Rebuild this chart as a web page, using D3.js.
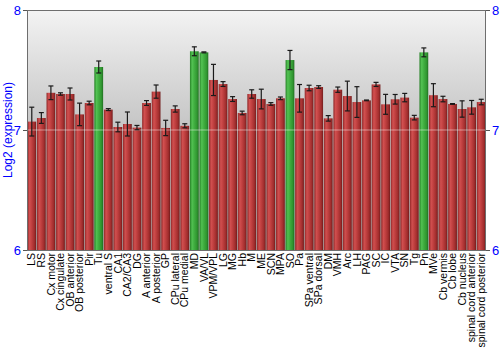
<!DOCTYPE html>
<html>
<head>
<meta charset="utf-8">
<script src="https://cdn.jsdelivr.net/npm/d3@7"></script>
<style>
  html, body { margin: 0; padding: 0; background: #ffffff; }
  svg { display: block; font-family: "Liberation Sans", Arial, sans-serif; }
</style>
</head>
<body>
<svg id="chart" width="500" height="350"></svg>
<script>
// Brain regions
const regions = ["LS", "RS", "Cx motor", "Cx cingulate", "OB anterior", "OB posterior", "Pir", "Tu",
  "ventral S", "CA1", "CA2/CA3", "DG", "A anterior", "A posterior", "GP", "CPu lateral", "CPu medial",
  "MD", "VA/VL", "VPM/VPL", "LG", "MG", "Hb", "M", "ME", "SCN", "MPA", "SO", "Pa", "SPa ventral",
  "SPa dorsal", "DM", "VMH", "Arc", "LH", "PAG", "SC", "IC", "VTA", "SN", "Tg", "Pn", "MVe",
  "Cb vermis", "Cb lobe", "Cb nucleus", "spinal cord anterior", "spinal cord posterior"];

// Mean log2 expression per region
const expression = [7.07, 7.10, 7.31, 7.30, 7.30, 7.13, 7.225, 7.525,
  7.17, 7.025, 7.05, 7.02, 7.225, 7.32, 7.017, 7.175, 7.035,
  7.656, 7.647, 7.417, 7.383, 7.258, 7.142, 7.30, 7.258, 7.217, 7.264, 7.583, 7.264, 7.35,
  7.358, 7.097, 7.336, 7.283, 7.233, 7.247, 7.38, 7.214, 7.256, 7.27, 7.103, 7.647, 7.29,
  7.258, 7.217, 7.175, 7.189, 7.233];

// Standard error per region
const stdError = [0.12, 0.045, 0.057, 0.01, 0.05, 0.094, 0.015, 0.05,
  0.008, 0.04, 0.1, 0.018, 0.02, 0.055, 0.064, 0.026, 0.017,
  0.037, 0.004, 0.13, 0.02, 0.02, 0.015, 0.035, 0.082, 0.011, 0.011, 0.08, 0.115, 0.023,
  0.011, 0.023, 0.022, 0.124, 0.128, 0.003, 0.017, 0.083, 0.04, 0.035, 0.019, 0.037, 0.096,
  0.023, 0.003, 0.068, 0.057, 0.023];

// Highlighted regions (drawn in green)
const highlighted = ["Tu", "MD", "VA/VL", "SO", "Pn"];

const yTicks = [6, 7, 8];
const yTitle = "Log2 (expression)";

const svg = d3.select("#chart");
const margin = { left: 27, right: 14, top: 10, bottom: 100 };
const W = 500, H = 350;
const iw = W - margin.left - margin.right;
const ih = H - margin.top - margin.bottom;

const x = d3.scaleBand().domain(regions).range([margin.left, margin.left + iw]).paddingInner(0.08).paddingOuter(0.04);
const y = d3.scaleLinear().domain([6, 8]).range([margin.top + ih, margin.top]);

const defs = svg.append("defs");
const bg = defs.append("linearGradient").attr("id", "bgGrad").attr("x1", 0).attr("x2", 0).attr("y1", 0).attr("y2", 1);
bg.append("stop").attr("offset", "0%").attr("stop-color", "#f3f3f3");
bg.append("stop").attr("offset", "50%").attr("stop-color", "#c4c4c4");
bg.append("stop").attr("offset", "100%").attr("stop-color", "#a8a8a8");

function barGradient(id, stops) {
  const g = defs.append("linearGradient").attr("id", id).attr("x1", 0).attr("x2", 1).attr("y1", 0).attr("y2", 0);
  stops.forEach(([o, c]) => g.append("stop").attr("offset", o).attr("stop-color", c));
}
barGradient("redGrad", [["0%", "#8e2020"], ["25%", "#d24a4a"], ["45%", "#c43c3c"], ["80%", "#a02626"], ["100%", "#6e1414"]]);
barGradient("greenGrad", [["0%", "#1e7e1e"], ["25%", "#4cc24c"], ["45%", "#3cb03c"], ["80%", "#289428"], ["100%", "#186a18"]]);

// Plot background
svg.append("rect")
  .attr("x", margin.left).attr("y", margin.top)
  .attr("width", iw).attr("height", ih)
  .attr("fill", "url(#bgGrad)");

// Bars
svg.append("g").selectAll("rect").data(regions).join("rect")
  .attr("x", d => x(d))
  .attr("width", x.bandwidth())
  .attr("y", (d, i) => y(expression[i]))
  .attr("height", (d, i) => y(6) - y(expression[i]))
  .attr("fill", d => highlighted.includes(d) ? "url(#greenGrad)" : "url(#redGrad)")
  .attr("fill-opacity", 0.95);

// Grid line at 7
svg.append("line")
  .attr("x1", margin.left).attr("x2", margin.left + iw)
  .attr("y1", y(7)).attr("y2", y(7))
  .attr("stroke", "#ffffff").attr("stroke-opacity", 0.45).attr("stroke-width", 1);

// Error bars
const eb = svg.append("g").attr("stroke", "#1a1a1a").attr("stroke-width", 1.2);
regions.forEach((d, i) => {
  const cx = x(d) + x.bandwidth() / 2;
  const y1 = y(expression[i] + stdError[i]);
  const y2 = y(expression[i] - stdError[i]);
  eb.append("line").attr("x1", cx).attr("x2", cx).attr("y1", y1).attr("y2", y2);
  eb.append("line").attr("x1", cx - 2.5).attr("x2", cx + 2.5).attr("y1", y1).attr("y2", y1);
  eb.append("line").attr("x1", cx - 2.5).attr("x2", cx + 2.5).attr("y1", y2).attr("y2", y2);
});

// Frame
svg.append("rect")
  .attr("x", margin.left + 0.5).attr("y", margin.top + 0.5)
  .attr("width", iw - 1).attr("height", ih)
  .attr("fill", "none").attr("stroke", "#6e6e6e").attr("stroke-width", 1);

// Axes
const leftAxis = d3.axisLeft(y).tickValues(yTicks).tickFormat(d3.format("d")).tickSize(4).tickPadding(2);
const rightAxis = d3.axisRight(y).tickValues(yTicks).tickFormat(d3.format("d")).tickSize(4).tickPadding(2);

function styleAxis(g) {
  g.select(".domain").remove();
  g.selectAll(".tick line").attr("stroke", "#555");
  g.selectAll(".tick text").attr("fill", "#0000ff").style("font-size", "13px")
    .style("font-family", "'Liberation Sans', Arial, sans-serif");
}
svg.append("g").attr("transform", `translate(${margin.left},0)`).call(leftAxis).call(styleAxis);
svg.append("g").attr("transform", `translate(${margin.left + iw},0)`).call(rightAxis).call(styleAxis);

// Category labels
const xAxis = d3.axisBottom(x).tickSize(0).tickPadding(0);
const xg = svg.append("g").attr("transform", `translate(0,${margin.top + ih})`).call(xAxis);
xg.select(".domain").remove();
xg.selectAll(".tick text")
  .attr("fill", "#000")
  .style("font-size", "10.5px")
  .style("font-family", "'Liberation Sans', Arial, sans-serif")
  .attr("text-anchor", "end")
  .attr("dy", "0.35em")
  .attr("transform", "translate(0,3) rotate(-90)")
  .attr("x", 0).attr("y", 0);

// Y title
svg.append("text")
  .attr("transform", `translate(12,${margin.top + ih / 2}) rotate(-90)`)
  .attr("text-anchor", "middle")
  .attr("fill", "#0000ff")
  .style("font-size", "12px")
  .text(yTitle);
</script>
</body>
</html>
